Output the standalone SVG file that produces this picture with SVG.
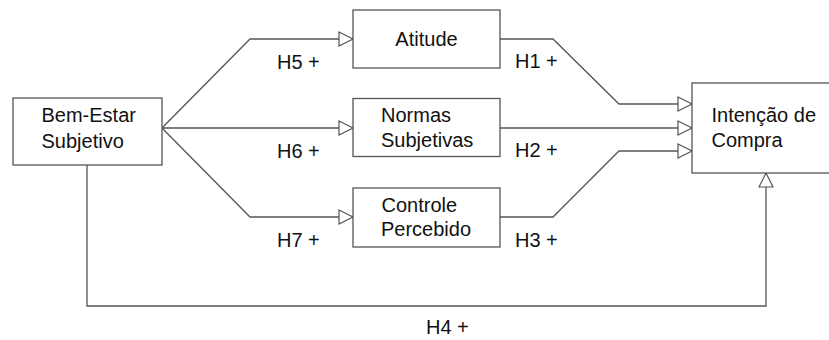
<svg xmlns="http://www.w3.org/2000/svg" width="829" height="340" viewBox="0 0 829 340">
<style>
.box{fill:#fff;stroke:#555;stroke-width:1.3}
.t{font-family:"Liberation Sans",Arial,sans-serif;font-size:20px;fill:#111}
.c{fill:none;stroke:#555;stroke-width:1.3}
</style>
<defs>
<marker id="ah" markerUnits="userSpaceOnUse" markerWidth="18" markerHeight="18" refX="14" refY="7" orient="auto" viewBox="-2 -2 18 18">
<path d="M0,0 L14,7 L0,14 Z" fill="#fff" stroke="#555" stroke-width="1.2"/>
</marker>
</defs>
<g id="connectors">
<polyline class="c" points="162,128 250,39 353,39" marker-end="url(#ah)"/>
<polyline class="c" points="162,128 353,128" marker-end="url(#ah)"/>
<polyline class="c" points="162,128 250,217 353,217" marker-end="url(#ah)"/>
<polyline class="c" points="500,39 553,39 619,104 692,104" marker-end="url(#ah)"/>
<polyline class="c" points="500,128 692,128" marker-end="url(#ah)"/>
<polyline class="c" points="500,217 553,217 619,151 692,151" marker-end="url(#ah)"/>
<polyline class="c" points="87,165 87,306 766,306 766,173" marker-end="url(#ah)"/>
<text class="t" x="277" y="69">H5 +</text>
<text class="t" x="277" y="158">H6 +</text>
<text class="t" x="277" y="247">H7 +</text>
<text class="t" x="515" y="68">H1 +</text>
<text class="t" x="515" y="157">H2 +</text>
<text class="t" x="515" y="247">H3 +</text>
<text class="t" x="426" y="334">H4 +</text>
</g>
<g id="bem-estar">
<rect class="box" x="13" y="98" width="149" height="67"/>
<text class="t" x="41.5" y="122">Bem-Estar</text>
<text class="t" x="41.5" y="147.5">Subjetivo</text>
</g>
<g id="atitude">
<rect class="box" x="353" y="10" width="147" height="58"/>
<text class="t" x="426.5" y="45.5" text-anchor="middle">Atitude</text>
</g>
<g id="normas">
<rect class="box" x="353" y="98.5" width="147" height="58"/>
<text class="t" x="381" y="121.5">Normas</text>
<text class="t" x="381" y="147.3">Subjetivas</text>
</g>
<g id="controle">
<rect class="box" x="353" y="188" width="147" height="59"/>
<text class="t" x="381.5" y="211.5">Controle</text>
<text class="t" x="381" y="236">Percebido</text>
</g>
<g id="intencao">
<rect class="box" x="692" y="83" width="140" height="90"/>
<text class="t" x="711.5" y="121.5">Intenção de</text>
<text class="t" x="711.5" y="147.3">Compra</text>
</g>
</svg>
